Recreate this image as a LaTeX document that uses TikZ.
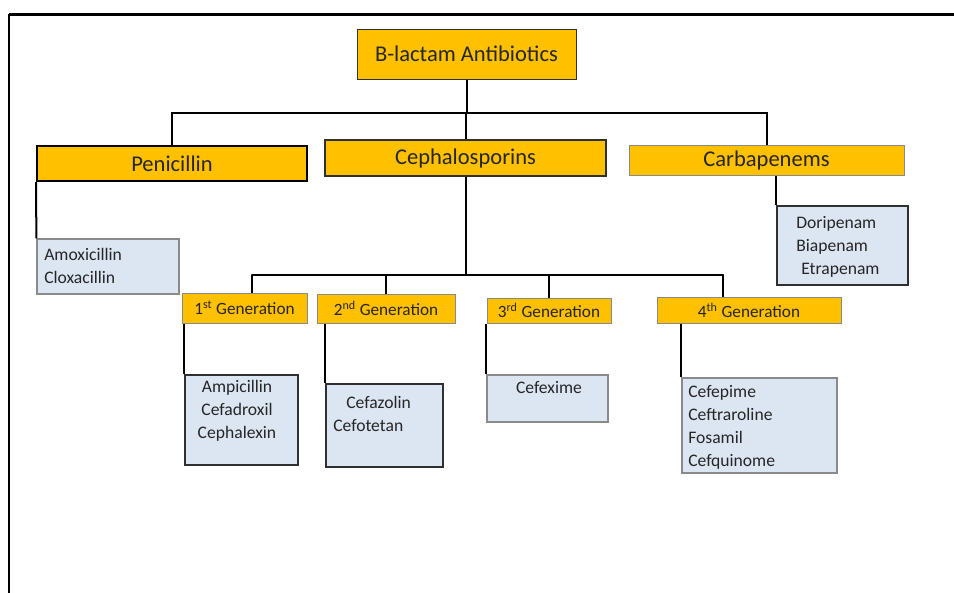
\documentclass[tikz,border=0pt]{standalone}
\usepackage{fontspec}
\setmainfont{Carlito}
\definecolor{boxorange}{HTML}{FFC000}
\definecolor{boxblue}{HTML}{DCE6F2}
\definecolor{inkgray}{HTML}{262626}
\definecolor{edgegray}{HTML}{8A8A8A}
\definecolor{edgedark}{HTML}{303030}
\tikzset{
  classbox/.style={fill=boxorange, inner sep=0pt, text=inkgray, font=\fontsize{16.9}{20}\selectfont},
  genbox/.style={fill=boxorange, draw=edgegray, line width=0.75pt, inner sep=0pt, text=inkgray, font=\fontsize{12.9}{15}\selectfont},
  drugbox/.style={fill=boxblue, inner sep=0pt},
  druglist/.style={inner sep=0pt, text=inkgray, font=\fontsize{13.2}{17.25}\selectfont},
  link/.style={line width=1.5pt, black},
}
\begin{document}
\begin{tikzpicture}[x=0.75pt,y=-0.75pt]
  \useasboundingbox (0,0) rectangle (954,593);
  % frame
  \draw[line width=2.25pt] (9,14) -- (954,14);
  \draw[line width=1.5pt] (9,14) -- (9,593);

  % classes
  \node[classbox, draw=edgedark, line width=0.75pt, minimum width=164.25pt, minimum height=37.5pt] (root) at (466.5,54) {B-lactam Antibiotics};
  \node[classbox, draw=black, line width=1.5pt, minimum width=202.5pt, minimum height=26.25pt] (pen) at (172,163.5) {Penicillin};
  \node[classbox, draw=edgedark, line width=1.1pt, minimum width=210.75pt, minimum height=27pt] (ceph) at (465.5,158) {Cephalosporins};
  \node[classbox, draw=edgegray, line width=0.75pt, minimum width=206.25pt, minimum height=22.5pt] (carb) at (766.5,160) {Carbapenems};

  % generations
  \node[genbox, minimum width=93.75pt, minimum height=22.5pt] (g1) at (244.5,308) {1\textsuperscript{st} Generation};
  \node[genbox, minimum width=103.5pt, minimum height=21.75pt] (g2) at (386,308.5) {2\textsuperscript{nd} Generation};
  \node[genbox, minimum width=93pt, minimum height=18.75pt] (g3) at (549,310.5) {3\textsuperscript{rd} Generation};
  \node[genbox, minimum width=138pt, minimum height=19.5pt] (g4) at (749,310) {4\textsuperscript{th} Generation};

  % drug boxes
  \node[drugbox, draw=edgegray, line width=0.9pt, minimum width=106.5pt, minimum height=41.25pt] (amox) at (108,266.5) {};
  \node[drugbox, draw=edgedark, line width=1.5pt, minimum width=98.25pt, minimum height=59.25pt] (dori) at (842.5,245.5) {};
  \node[drugbox, draw=edgedark, line width=1.1pt, minimum width=84.75pt, minimum height=67.5pt] (amp) at (241.5,420) {};
  \node[drugbox, draw=edgedark, line width=1.1pt, minimum width=87.75pt, minimum height=62.25pt] (cefa) at (384.5,425.5) {};
  \node[drugbox, draw=edgegray, line width=0.9pt, minimum width=90.75pt, minimum height=35.25pt] (cefx) at (547.5,398.5) {};
  \node[drugbox, draw=edgegray, line width=0.9pt, minimum width=116.25pt, minimum height=71.25pt] (cefp) at (759.5,425.5) {};

  \node[druglist, align=left, anchor=north west] (amox-t) at (44,248) {Amoxicillin\\Cloxacillin};
  \node[druglist, align=left, anchor=north west] (dori-t) at (796,216) {Doripenam\\Biapenam\\\hspace*{3.75pt}Etrapenam};
  \node[druglist, align=center, anchor=north] (amp-t) at (237,380) {Ampicillin\\Cefadroxil\\Cephalexin};
  \node[druglist, align=left, anchor=north west] (cefa-t) at (333,396) {\hspace*{9.75pt}Cefazolin\\Cefotetan};
  \node[druglist, anchor=north] (cefx-t) at (549,381) {Cefexime};
  \node[druglist, align=left, anchor=north west] (cefp-t) at (688,385) {Cefepime\\Ceftraroline\\Fosamil\\Cefquinome};

  % connectors
  \coordinate (topbus) at (466,113);
  \draw[link] (root.south) -- (root.south |- topbus);
  \draw[link] (pen.north) -- (pen.north |- topbus) -- (carb.north |- topbus) -- (carb.north);
  \draw[link] (ceph.north) -- (ceph.north |- topbus);
  \draw[link] (pen.south west) -- (amox.north west);
  \draw[link] (dori.north west) -- (dori.north west |- carb.south);

  \coordinate (genL) at (252,275);
  \coordinate (genR) at (723,275);
  \draw[link] (ceph.south) -- (ceph.south |- genL);
  \draw[link, line cap=round] (genL) -- (genR);
  \draw[link] (genL) -- (genL |- g1.north);
  \draw[link] (g2.north) -- (g2.north |- genL);
  \draw[link] (g3.north) -- (g3.north |- genL);
  \draw[link] (genR) -- (genR |- g4.north);

  \draw[link] (amp.north west) -- (amp.north west |- g1.south);
  \draw[link] (cefa.north west) -- (cefa.north west |- g2.south);
  \draw[link] (cefx.north west) -- (cefx.north west |- g3.south);
  \draw[link] (cefp.north west) -- (cefp.north west |- g4.south);
\end{tikzpicture}
\end{document}
